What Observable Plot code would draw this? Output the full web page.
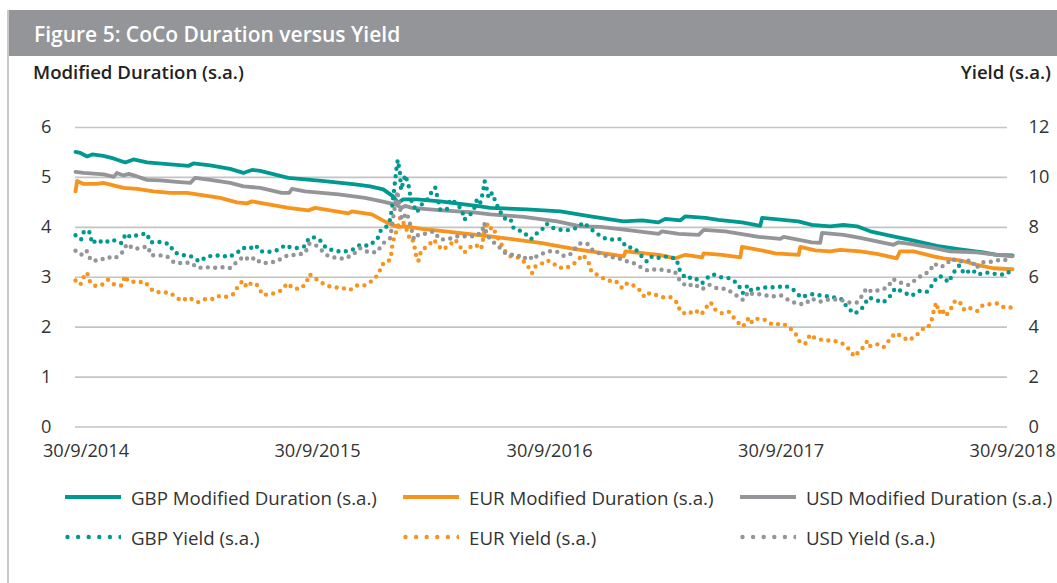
<!DOCTYPE html>
<html><head><meta charset="utf-8">
<script src="https://cdn.jsdelivr.net/npm/d3@7"></script>
<script src="https://cdn.jsdelivr.net/npm/@observablehq/plot@0.6"></script>
<style>
body{margin:0;background:#fff;font-family:"Open Sans",Lato,sans-serif;color:#333;}
#wrap{position:relative;width:1057px;height:583px;overflow:hidden;background:#fff;}
#border{position:absolute;left:7px;top:10px;width:1.5px;bottom:0;background:#c8c8c8;}
#header{position:absolute;left:9px;right:0;top:10px;height:46px;background:#939598;color:#fff;font-weight:600;font-size:21px;line-height:48px;padding-left:25px;box-sizing:border-box;}
.atitle{position:absolute;top:60px;font-weight:600;font-size:18.6px;line-height:24px;color:#222;}
#chart{position:absolute;left:0;top:100px;}
.leg{position:absolute;display:flex;align-items:center;font-size:18.7px;color:#333;white-space:nowrap;}
.leg svg{margin-right:10px;}
</style></head>
<body>
<div id="wrap">
  <div id="border"></div>
  <div id="header">Figure 5: CoCo Duration versus Yield</div>
  <div class="atitle" style="left:33px">Modified Duration (s.a.)</div>
  <div class="atitle" style="right:6px">Yield (s.a.)</div>
  <div id="chart"></div>
  <div id="legend"></div>
</div>
<script>
// ---- data: [decimal year, value] ----
const gbpDuration = [[2014.700,5.51],[2014.721,5.49],[2014.750,5.42],[2014.772,5.46],[2014.820,5.43],[2014.864,5.38],[2014.915,5.30],[2014.950,5.36],[2015.009,5.30],[2015.110,5.26],[2015.187,5.23],[2015.209,5.28],[2015.282,5.24],[2015.368,5.17],[2015.425,5.09],[2015.462,5.15],[2015.498,5.13],[2015.619,4.99],[2015.764,4.93],[2015.908,4.86],[2015.973,4.82],[2016.029,4.76],[2016.072,4.62],[2016.093,4.49],[2016.115,4.56],[2016.174,4.56],[2016.275,4.52],[2016.447,4.42],[2016.490,4.39],[2016.649,4.36],[2016.792,4.32],[2016.922,4.22],[2017.064,4.12],[2017.145,4.14],[2017.215,4.10],[2017.245,4.17],[2017.310,4.14],[2017.332,4.22],[2017.418,4.19],[2017.474,4.15],[2017.576,4.10],[2017.655,4.03],[2017.663,4.19],[2017.819,4.12],[2017.878,4.05],[2017.957,4.02],[2018.014,4.05],[2018.073,4.02],[2018.130,3.92],[2018.229,3.82],[2018.303,3.75],[2018.418,3.63],[2018.518,3.56],[2018.618,3.50],[2018.677,3.45],[2018.745,3.44]];
const eurDuration = [[2014.700,4.72],[2014.707,4.93],[2014.735,4.87],[2014.793,4.87],[2014.820,4.89],[2014.908,4.79],[2014.966,4.77],[2015.037,4.72],[2015.110,4.69],[2015.182,4.69],[2015.253,4.64],[2015.325,4.59],[2015.397,4.50],[2015.441,4.48],[2015.462,4.52],[2015.498,4.49],[2015.620,4.39],[2015.706,4.34],[2015.735,4.39],[2015.879,4.28],[2015.894,4.32],[2015.980,4.26],[2016.023,4.15],[2016.066,4.05],[2016.095,4.01],[2016.124,4.02],[2016.196,3.97],[2016.296,3.92],[2016.490,3.82],[2016.706,3.69],[2016.850,3.57],[2016.922,3.52],[2017.066,3.42],[2017.073,3.52],[2017.217,3.45],[2017.289,3.38],[2017.332,3.45],[2017.404,3.40],[2017.411,3.48],[2017.490,3.45],[2017.569,3.40],[2017.576,3.61],[2017.648,3.55],[2017.720,3.48],[2017.821,3.45],[2017.828,3.61],[2017.893,3.54],[2017.957,3.52],[2018.001,3.55],[2018.087,3.52],[2018.159,3.47],[2018.245,3.38],[2018.259,3.52],[2018.317,3.52],[2018.403,3.42],[2018.446,3.38],[2018.518,3.34],[2018.590,3.25],[2018.662,3.18],[2018.745,3.16]];
const usdDuration = [[2014.700,5.11],[2014.735,5.09],[2014.822,5.06],[2014.865,5.01],[2014.879,5.09],[2014.908,5.04],[2014.930,5.07],[2014.966,5.02],[2015.009,4.95],[2015.066,4.94],[2015.138,4.91],[2015.196,4.89],[2015.217,4.99],[2015.282,4.95],[2015.368,4.89],[2015.426,4.82],[2015.498,4.79],[2015.591,4.69],[2015.623,4.69],[2015.635,4.77],[2015.692,4.72],[2015.836,4.66],[2015.951,4.59],[2016.023,4.52],[2016.080,4.46],[2016.109,4.39],[2016.124,4.43],[2016.152,4.39],[2016.282,4.34],[2016.418,4.30],[2016.490,4.26],[2016.634,4.21],[2016.778,4.12],[2016.879,4.02],[2016.965,4.01],[2017.094,3.94],[2017.217,3.87],[2017.231,3.92],[2017.303,3.87],[2017.389,3.85],[2017.411,3.95],[2017.504,3.92],[2017.648,3.81],[2017.742,3.77],[2017.756,3.81],[2017.878,3.70],[2017.914,3.69],[2017.922,3.89],[2018.015,3.85],[2018.087,3.79],[2018.159,3.72],[2018.231,3.65],[2018.252,3.70],[2018.303,3.67],[2018.403,3.59],[2018.475,3.52],[2018.590,3.50],[2018.677,3.45],[2018.745,3.42]];
const gbpYield = [[2014.700,7.68],[2014.724,7.51],[2014.738,7.88],[2014.761,7.80],[2014.772,7.35],[2014.793,7.51],[2014.822,7.37],[2014.858,7.51],[2014.897,7.37],[2014.918,7.75],[2014.937,7.61],[2014.976,7.71],[2015.009,7.75],[2015.023,7.40],[2015.063,7.41],[2015.104,7.33],[2015.128,6.99],[2015.163,6.89],[2015.197,6.85],[2015.236,6.63],[2015.269,6.84],[2015.304,6.86],[2015.324,6.88],[2015.361,6.81],[2015.397,6.97],[2015.423,7.18],[2015.452,7.14],[2015.478,7.29],[2015.498,7.04],[2015.537,7.02],[2015.577,7.10],[2015.606,7.29],[2015.627,7.20],[2015.656,7.17],[2015.689,7.24],[2015.709,7.57],[2015.732,7.60],[2015.754,7.51],[2015.783,7.17],[2015.818,7.06],[2015.857,7.02],[2015.896,7.10],[2015.929,7.30],[2015.965,7.26],[2016.003,7.51],[2016.020,7.91],[2016.042,8.02],[2016.059,8.31],[2016.066,8.71],[2016.077,9.58],[2016.088,10.50],[2016.092,10.70],[2016.101,10.20],[2016.106,9.50],[2016.124,10.10],[2016.138,9.70],[2016.149,9.10],[2016.174,8.60],[2016.193,8.90],[2016.218,9.10],[2016.240,9.45],[2016.253,9.60],[2016.275,8.71],[2016.303,8.71],[2016.318,9.12],[2016.339,9.00],[2016.368,8.71],[2016.378,8.31],[2016.404,8.51],[2016.426,8.85],[2016.433,9.14],[2016.447,8.98],[2016.459,9.41],[2016.466,9.85],[2016.476,9.52],[2016.483,9.18],[2016.498,9.38],[2016.512,9.05],[2016.531,8.65],[2016.555,8.34],[2016.577,8.34],[2016.591,7.96],[2016.631,7.82],[2016.666,7.53],[2016.692,7.77],[2016.713,7.91],[2016.732,8.15],[2016.759,7.98],[2016.787,7.91],[2016.821,7.88],[2016.864,7.98],[2016.891,8.19],[2016.914,8.01],[2016.943,7.79],[2016.979,7.57],[2017.011,7.51],[2017.051,7.53],[2017.077,7.21],[2017.112,7.17],[2017.141,6.86],[2017.166,6.62],[2017.188,6.84],[2017.217,6.78],[2017.255,6.84],[2017.293,6.73],[2017.307,6.30],[2017.332,5.96],[2017.368,6.00],[2017.404,5.76],[2017.428,5.99],[2017.450,6.12],[2017.486,6.00],[2017.523,5.96],[2017.559,5.74],[2017.579,5.36],[2017.601,5.68],[2017.617,5.47],[2017.651,5.56],[2017.684,5.60],[2017.727,5.60],[2017.763,5.66],[2017.803,5.47],[2017.831,5.19],[2017.857,5.28],[2017.881,5.32],[2017.922,5.26],[2017.960,5.22],[2018.008,5.11],[2018.029,4.81],[2018.062,4.54],[2018.091,4.71],[2018.108,4.95],[2018.123,5.19],[2018.148,5.11],[2018.187,4.99],[2018.216,5.25],[2018.238,5.56],[2018.278,5.38],[2018.307,5.25],[2018.346,5.46],[2018.377,5.42],[2018.403,5.76],[2018.420,6.03],[2018.442,6.03],[2018.468,5.80],[2018.489,6.17],[2018.515,6.48],[2018.536,6.14],[2018.569,6.31],[2018.595,6.10],[2018.626,6.20],[2018.672,6.13],[2018.713,6.10],[2018.745,6.31]];
const eurYield = [[2014.700,5.87],[2014.721,5.70],[2014.735,6.00],[2014.750,6.19],[2014.764,5.79],[2014.783,5.66],[2014.810,5.67],[2014.841,5.90],[2014.868,5.70],[2014.898,5.67],[2014.915,6.06],[2014.925,5.86],[2014.970,5.79],[2014.997,5.83],[2015.018,5.63],[2015.037,5.43],[2015.071,5.39],[2015.105,5.39],[2015.132,5.23],[2015.157,5.05],[2015.188,5.19],[2015.229,5.00],[2015.255,5.12],[2015.294,5.13],[2015.315,5.25],[2015.345,5.20],[2015.383,5.33],[2015.404,5.67],[2015.423,5.86],[2015.440,5.60],[2015.458,5.76],[2015.476,5.76],[2015.490,5.63],[2015.508,5.29],[2015.548,5.33],[2015.588,5.47],[2015.616,5.76],[2015.639,5.56],[2015.670,5.53],[2015.695,5.74],[2015.711,6.12],[2015.731,5.99],[2015.749,5.86],[2015.783,5.67],[2015.817,5.60],[2015.853,5.57],[2015.886,5.49],[2015.912,5.67],[2015.947,5.67],[2015.982,5.86],[2016.008,6.12],[2016.026,6.53],[2016.040,6.53],[2016.062,6.75],[2016.066,7.17],[2016.077,7.64],[2016.089,7.90],[2016.102,8.40],[2016.124,8.07],[2016.141,7.61],[2016.152,7.64],[2016.167,7.10],[2016.174,6.67],[2016.181,6.67],[2016.193,7.08],[2016.224,7.27],[2016.246,7.51],[2016.282,7.10],[2016.310,7.24],[2016.339,7.51],[2016.378,6.99],[2016.404,7.21],[2016.426,7.31],[2016.451,7.13],[2016.459,7.51],[2016.466,7.98],[2016.472,8.24],[2016.487,7.91],[2016.500,8.02],[2016.533,7.40],[2016.555,7.04],[2016.577,6.84],[2016.620,6.77],[2016.649,6.50],[2016.670,6.16],[2016.684,6.43],[2016.706,6.50],[2016.728,6.67],[2016.749,6.65],[2016.785,6.39],[2016.818,6.37],[2016.843,6.50],[2016.854,6.57],[2016.890,6.90],[2016.914,6.59],[2016.926,6.23],[2016.958,6.06],[2016.996,5.86],[2017.030,5.86],[2017.059,5.56],[2017.080,5.76],[2017.097,5.73],[2017.130,5.53],[2017.156,5.20],[2017.176,5.36],[2017.198,5.31],[2017.231,5.20],[2017.267,5.20],[2017.296,4.98],[2017.310,4.62],[2017.342,4.51],[2017.371,4.69],[2017.401,4.51],[2017.418,4.76],[2017.441,5.00],[2017.458,4.72],[2017.487,4.56],[2017.519,4.62],[2017.547,4.31],[2017.576,4.02],[2017.594,4.15],[2017.605,4.39],[2017.620,4.18],[2017.644,4.34],[2017.677,4.29],[2017.710,4.09],[2017.749,4.15],[2017.778,4.02],[2017.809,3.71],[2017.828,3.37],[2017.850,3.35],[2017.871,3.71],[2017.893,3.55],[2017.929,3.48],[2017.972,3.46],[2018.008,3.36],[2018.034,3.16],[2018.062,2.82],[2018.087,3.08],[2018.104,3.23],[2018.118,3.46],[2018.130,3.25],[2018.159,3.32],[2018.187,3.19],[2018.212,3.48],[2018.238,3.76],[2018.261,3.66],[2018.295,3.46],[2018.328,3.66],[2018.357,3.93],[2018.379,3.96],[2018.396,4.31],[2018.406,4.71],[2018.415,4.99],[2018.428,4.57],[2018.439,4.75],[2018.454,4.45],[2018.472,4.61],[2018.493,5.02],[2018.514,5.06],[2018.533,4.71],[2018.554,4.81],[2018.571,4.71],[2018.593,4.65],[2018.616,4.88],[2018.648,4.92],[2018.677,4.95],[2018.708,4.79],[2018.741,4.79]];
const usdYield = [[2014.700,7.06],[2014.724,6.90],[2014.747,7.08],[2014.767,6.67],[2014.803,6.67],[2014.836,6.81],[2014.868,6.75],[2014.898,6.94],[2014.923,7.34],[2014.951,7.13],[2014.977,7.17],[2015.012,7.24],[2015.027,6.88],[2015.063,6.88],[2015.095,6.84],[2015.128,6.57],[2015.163,6.57],[2015.197,6.59],[2015.229,6.37],[2015.259,6.41],[2015.296,6.37],[2015.325,6.41],[2015.368,6.37],[2015.402,6.66],[2015.429,6.84],[2015.452,6.67],[2015.476,6.79],[2015.498,6.59],[2015.529,6.57],[2015.567,6.63],[2015.601,6.81],[2015.620,6.89],[2015.656,6.89],[2015.692,6.97],[2015.709,7.34],[2015.732,7.33],[2015.757,7.13],[2015.790,6.86],[2015.824,6.78],[2015.862,6.74],[2015.898,6.90],[2015.929,7.17],[2015.965,7.00],[2016.001,7.00],[2016.030,7.37],[2016.059,7.57],[2016.073,8.45],[2016.090,9.45],[2016.109,8.31],[2016.131,8.58],[2016.142,8.24],[2016.162,7.51],[2016.181,7.71],[2016.214,7.75],[2016.246,7.84],[2016.275,7.51],[2016.310,7.53],[2016.347,7.64],[2016.390,7.64],[2016.426,7.64],[2016.440,7.73],[2016.454,7.78],[2016.464,8.18],[2016.476,7.64],[2016.490,7.57],[2016.508,7.37],[2016.533,7.17],[2016.555,6.97],[2016.577,6.90],[2016.607,6.90],[2016.631,6.73],[2016.656,6.86],[2016.675,6.70],[2016.692,6.86],[2016.713,6.94],[2016.742,7.04],[2016.775,7.04],[2016.810,6.84],[2016.839,6.94],[2016.857,7.17],[2016.876,7.35],[2016.908,7.35],[2016.932,7.08],[2016.965,6.94],[2017.001,6.81],[2017.037,6.79],[2017.073,6.65],[2017.104,6.59],[2017.138,6.41],[2017.169,6.27],[2017.210,6.33],[2017.245,6.27],[2017.286,6.23],[2017.310,5.83],[2017.339,5.63],[2017.368,5.74],[2017.404,5.52],[2017.435,5.70],[2017.468,5.56],[2017.509,5.53],[2017.545,5.32],[2017.581,5.09],[2017.605,5.43],[2017.622,5.32],[2017.660,5.32],[2017.701,5.23],[2017.745,5.27],[2017.782,5.06],[2017.818,4.93],[2017.850,4.93],[2017.875,5.15],[2017.914,5.02],[2017.950,5.11],[2018.001,5.11],[2018.029,4.99],[2018.073,4.99],[2018.101,5.33],[2018.113,5.56],[2018.137,5.42],[2018.173,5.49],[2018.205,5.59],[2018.228,5.93],[2018.259,5.79],[2018.295,5.69],[2018.331,5.93],[2018.360,6.13],[2018.385,6.21],[2018.406,6.55],[2018.432,6.41],[2018.454,6.48],[2018.482,6.75],[2018.504,6.64],[2018.536,6.64],[2018.569,6.68],[2018.586,6.36],[2018.616,6.60],[2018.654,6.62],[2018.694,6.71],[2018.734,6.68]];

const xTickDates = ["2014-09-30","2015-09-30","2016-09-30","2017-09-30","2018-09-30"];
const xTickLabels = ["30/9/2014","30/9/2015","30/9/2016","30/9/2017","30/9/2018"];
const durationTicks = [0,1,2,3,4,5,6];
const yieldTicks = [0,2,4,6,8,10,12];

const seriesNames = ["GBP Modified Duration (s.a.)","EUR Modified Duration (s.a.)","USD Modified Duration (s.a.)","GBP Yield (s.a.)","EUR Yield (s.a.)","USD Yield (s.a.)"];
const colors = {GBP:"#00998f", EUR:"#f7941d", USD:"#939598"};

// ---- helpers ----
function yearToDate(y){const yr=Math.floor(y);const a=Date.UTC(yr,0,1),b=Date.UTC(yr+1,0,1);return new Date(a+(y-yr)*(b-a));}
const toRows = arr => arr.map(([t,v]) => ({date: yearToDate(t), value: v}));
const tickDates = xTickDates.map(s => new Date(s + "T00:00:00Z"));

const durLine = (arr, c) => Plot.line(toRows(arr), {x:"date", y:"value", stroke:c, strokeWidth:3.8, strokeLinejoin:"round", strokeLinecap:"round"});
// yields live on the right axis (0–12), drawn on the shared 0–6 scale at half value
const yldLine = (arr, c) => Plot.line(toRows(arr), {x:"date", y: d => d.value/2, stroke:c, strokeWidth:4.4, strokeDasharray:"0 7.4", strokeLinecap:"round", strokeLinejoin:"round"});

const chart = Plot.plot({
  width:1057, height:370,
  marginLeft:75, marginRight:44, marginTop:27, marginBottom:43.5,
  style:{fontFamily:"'Open Sans', Lato, sans-serif", fontSize:"18.2px", color:"#333", background:"transparent", overflow:"visible"},
  x:{type:"utc", domain:[yearToDate(2014.700), yearToDate(2018.749)]},
  y:{domain:[0,6]},
  marks:[
    Plot.ruleY(durationTicks, {stroke:"#c4c4c4", strokeWidth:1.6, insetRight:6}),
    durLine(gbpDuration, colors.GBP),
    durLine(eurDuration, colors.EUR),
    durLine(usdDuration, colors.USD),
    yldLine(gbpYield, colors.GBP),
    yldLine(eurYield, colors.EUR),
    yldLine(usdYield, colors.USD),
    Plot.axisX({ticks: tickDates, tickFormat:(d,i) => xTickLabels[i], tickSize:0, tickPadding:17, label:null}),
    Plot.axisY({anchor:"left", ticks: durationTicks, tickFormat: d => String(d), tickSize:0, tickPadding:24, label:null}),
    Plot.axisY({anchor:"right", ticks: durationTicks, tickFormat:(d,i) => String(yieldTicks[i]), tickSize:0, tickPadding:15, textAnchor:"start", label:null})
  ]
});
document.getElementById("chart").appendChild(chart);

// ---- legend (HTML below the SVG) ----
const legendItems = [
  {name:seriesNames[0], color:colors.GBP, dotted:false, left:65, top:486},
  {name:seriesNames[1], color:colors.EUR, dotted:false, left:403, top:486},
  {name:seriesNames[2], color:colors.USD, dotted:false, left:740, top:486},
  {name:seriesNames[3], color:colors.GBP, dotted:true, left:65, top:526},
  {name:seriesNames[4], color:colors.EUR, dotted:true, left:403, top:526},
  {name:seriesNames[5], color:colors.USD, dotted:true, left:740, top:526}
];
const legend = document.getElementById("legend");
for (const it of legendItems){
  const el = document.createElement("div");
  el.className = "leg";
  el.style.left = it.left + "px";
  el.style.top = it.top + "px";
  el.style.height = "22px";
  const dash = it.dotted ? 'stroke-dasharray="0 10.6" stroke-width="4.4"' : 'stroke-width="4"';
  el.innerHTML = `<svg width="56" height="10"><line x1="${it.dotted?2.5:0}" y1="5" x2="56" y2="5" stroke="${it.color}" ${dash} stroke-linecap="${it.dotted?'round':'butt'}"/></svg><span>${it.name}</span>`;
  legend.appendChild(el);
}
</script>
</body></html>
